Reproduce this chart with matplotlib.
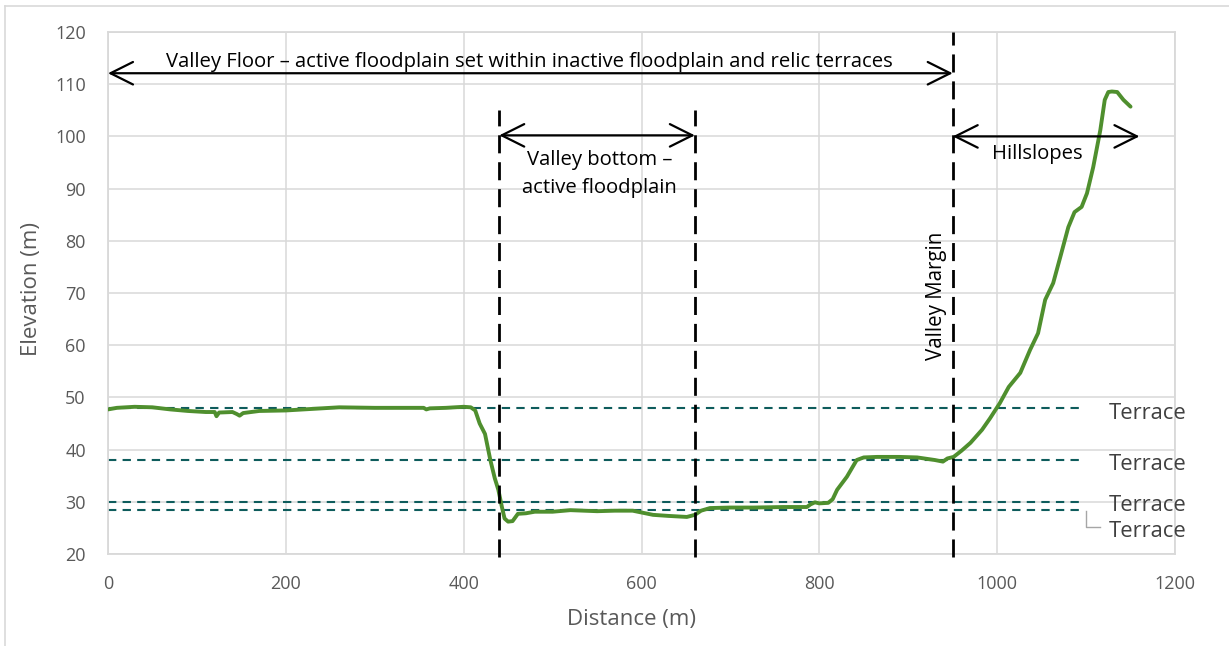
import matplotlib
matplotlib.use("Agg")
import matplotlib.pyplot as plt
from matplotlib.lines import Line2D

plt.rcParams['font.family'] = ['Open Sans', 'DejaVu Sans']

# Profile data (distance m, elevation m)
distance = [0, 10, 30, 50, 70, 90, 110, 120, 122, 125, 140, 145, 148, 152, 170, 200,
            230, 260, 300, 340, 355, 358, 362, 380, 400, 408, 413, 418, 424, 430,
            435, 439, 443, 446, 450, 455, 461, 470, 480, 500, 520, 550, 570, 590,
            613, 630, 651, 660, 667, 677, 700, 726, 760, 786, 790, 795, 800, 810,
            815, 820, 831, 842, 850, 865, 890, 910, 930, 939, 944, 951, 960, 970,
            983, 992, 1003, 1013, 1026, 1037, 1046, 1054, 1063, 1071, 1080, 1087,
            1095, 1101, 1108, 1116, 1121, 1125, 1129, 1135, 1142, 1150]
elevation = [47.7, 48.0, 48.2, 48.1, 47.7, 47.4, 47.2, 47.2, 46.4, 47.1, 47.2, 46.8,
             46.5, 47.0, 47.4, 47.5, 47.8, 48.1, 48.0, 48.0, 48.0, 47.7, 47.9, 48.0,
             48.2, 48.1, 47.5, 45.0, 43.0, 38.0, 34.5, 32.3, 29.0, 26.8, 26.2, 26.3,
             27.7, 27.8, 28.1, 28.1, 28.4, 28.2, 28.3, 28.3, 27.5, 27.3, 27.1, 27.5,
             28.3, 28.8, 28.9, 28.9, 29.0, 29.0, 29.5, 29.9, 29.7, 29.8, 30.5, 32.3,
             34.8, 38.0, 38.5, 38.6, 38.6, 38.5, 38.0, 37.7, 38.3, 38.6, 39.8, 41.3,
             43.8, 46.0, 48.9, 52.0, 54.7, 59.1, 62.3, 68.7, 71.9, 76.9, 82.6, 85.5,
             86.5, 89.1, 94.1, 101.2, 107.0, 108.5, 108.6, 108.5, 107.0, 105.7]

terrace_levels = [48, 38, 30, 28.5]
terrace_label = "Terrace"
boundaries = [440, 660, 950]

x_ticks = [0, 200, 400, 600, 800, 1000, 1200]
y_ticks = [20, 30, 40, 50, 60, 70, 80, 90, 100, 110, 120]

fig = plt.figure(figsize=(12.29, 6.46), dpi=100)
ax = fig.add_axes([108/1229, 1 - 554/646, (1175-108)/1229, (554-32)/646])

grid_c = '#d9d9d9'
ax.set_xlim(0, 1200)
ax.set_ylim(20, 120)
ax.set_xticks(x_ticks)
ax.set_yticks(y_ticks)
ax.grid(True, color=grid_c, linewidth=1.1)
ax.set_axisbelow(True)
for s in ax.spines.values():
    s.set_color(grid_c)
    s.set_linewidth(1.3)
ax.tick_params(length=0, labelsize=13, labelcolor='#595959')
ax.tick_params(axis='y', pad=16)
ax.tick_params(axis='x', pad=15)
ax.set_xlabel('Distance (m)', fontsize=16, color='#595959')
ax.set_ylabel('Elevation (m)', fontsize=16, color='#595959')
ax.xaxis.set_label_coords(0.491, -0.105)
ax.yaxis.set_label_coords(-0.062, 0.507)

# Terrace lines
for lv in terrace_levels:
    ax.plot([0, 1095], [lv, lv], color='#0e5c5c', linewidth=1.5,
            dashes=(4, 3), zorder=2)

# Profile
ax.plot(distance, elevation, color='#4f8f2e', linewidth=2.8, zorder=3,
        solid_capstyle='round', solid_joinstyle='round')

# Vertical boundaries
for b in boundaries:
    top = 120 if b == 950 else 105
    ax.plot([b, b], [19.4, top], color='black', linewidth=2.0, dashes=(6.5, 3.2),
            clip_on=False, zorder=4)

arrow_kw = dict(arrowstyle='<->,head_length=0.9,head_width=0.45', color='black',
                lw=1.6, mutation_scale=18, shrinkA=0, shrinkB=0)
ax.annotate('', xy=(0, 112.1), xytext=(950, 112.1), arrowprops=arrow_kw, zorder=5)
ax.annotate('', xy=(440, 100.2), xytext=(660, 100.2), arrowprops=arrow_kw, zorder=5)
ax.annotate('', xy=(950, 100.0), xytext=(1160, 100.0), arrowprops=arrow_kw,
            annotation_clip=False, zorder=5)

ax.text(474, 114.3, 'Valley Floor \u2013 active floodplain set within inactive floodplain and relic terraces',
        ha='center', va='center', fontsize=14.6, color='black')
ax.text(553, 92.8, 'Valley bottom \u2013\nactive floodplain', ha='center', va='center',
        fontsize=14.6, color='black', linespacing=1.55)
ax.text(1045, 96.7, 'Hillslopes', ha='center', va='center', fontsize=14.6, color='black')
ax.text(932, 69.4, 'Valley Margin', ha='center', va='center', rotation=90,
        fontsize=14.8, color='black')

# Terrace labels
label_y = [47.0, 37.2, 29.2, 24.4]
for ly in label_y:
    ax.text(1126, ly, terrace_label, ha='left', va='center', fontsize=15.8,
            color='#404040', clip_on=False)
ax.plot([1100, 1100, 1116], [28.2, 25.2, 25.2], color='#a6a6a6', linewidth=1.0,
        clip_on=False)

# Figure border (top & left visible)
fig.add_artist(Line2D([5/1229, 5/1229], [0, 1 - 6/646], color=grid_c, linewidth=1.2,
                      transform=fig.transFigure))
fig.add_artist(Line2D([5/1229, 1], [1 - 6/646, 1 - 6/646], color=grid_c, linewidth=1.2,
                      transform=fig.transFigure))

fig.savefig('out.png', dpi=100)
